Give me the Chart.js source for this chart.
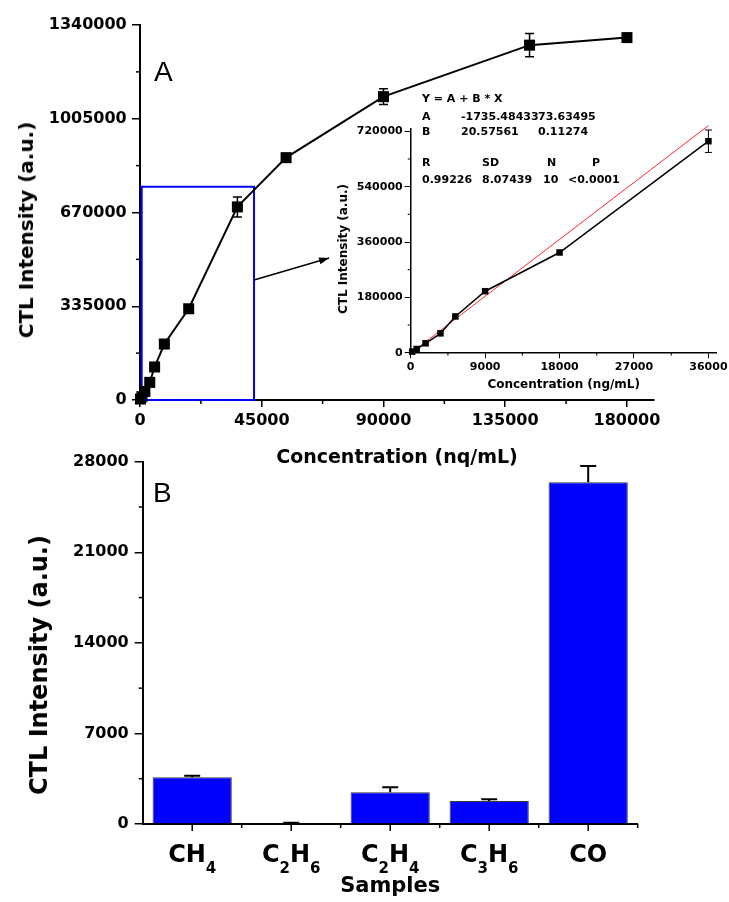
<!DOCTYPE html>
<html>
<head>
<meta charset="utf-8">
<script src="https://cdn.jsdelivr.net/npm/chart.js@4.4.1/dist/chart.umd.min.js"></script>
<style>
html,body{margin:0;padding:0;background:#fff;}
#wrap{position:relative;width:729px;height:902px;overflow:hidden;background:#fff;}
#wrap canvas{position:absolute;}
.t{position:absolute;font-family:'DejaVu Sans',sans-serif;font-weight:bold;white-space:nowrap;color:#000;font-size:11px;line-height:12px;}
.rot{position:absolute;font-family:'DejaVu Sans',sans-serif;font-weight:bold;white-space:nowrap;line-height:1;color:#000;transform:translate(-50%,-50%) rotate(-90deg);}
.pl{position:absolute;font-family:'Liberation Sans',Arial,sans-serif;font-size:28px;line-height:28px;color:#000;}
</style>
</head>
<body>
<div id="wrap">
  <canvas id="chartB" width="729" height="462" style="left:0;top:440px"></canvas>
  <canvas id="chartA" width="729" height="475" style="left:0;top:0"></canvas>
  <canvas id="chartInset" width="420" height="290" style="left:330px;top:110px"></canvas>

  <div class="pl" style="left:154px;top:58px">A</div>
  <div class="pl" style="left:153px;top:479px">B</div>

  <div class="rot" style="left:26px;top:230px;font-size:20px">CTL Intensity (a.u.)</div>
  <div class="rot" style="left:39px;top:665px;font-size:24px">CTL Intensity (a.u.)</div>
  <div class="rot" style="left:343px;top:249px;font-size:12px">CTL Intensity (a.u.)</div>

  <div class="t" style="left:422px;top:93px">Y = A + B * X</div>
  <div class="t" style="left:422px;top:111px">A</div>
  <div class="t" style="left:461px;top:111px">-1735.48433</div>
  <div class="t" style="left:538px;top:111px">73.63495</div>
  <div class="t" style="left:422px;top:126px">B</div>
  <div class="t" style="left:461px;top:126px">20.57561</div>
  <div class="t" style="left:538px;top:126px">0.11274</div>
  <div class="t" style="left:422px;top:157px">R</div>
  <div class="t" style="left:482px;top:157px">SD</div>
  <div class="t" style="left:547px;top:157px">N</div>
  <div class="t" style="left:592px;top:157px">P</div>
  <div class="t" style="left:422px;top:174px">0.99226</div>
  <div class="t" style="left:482px;top:174px">8.07439</div>
  <div class="t" style="left:543px;top:174px">10</div>
  <div class="t" style="left:568px;top:174px">&lt;0.0001</div>
</div>

<script>
// ---------- data ----------
const mainConc = [180, 720, 1800, 3600, 5400, 9000, 18000, 36000, 54000, 90000, 144000, 180000];
const mainCTL  = [3500, 12000, 30600, 63000, 118000, 200000, 326000, 690000, 866000, 1084000, 1268000, 1295000];
const mainErr  = [0, 0, 0, 0, 0, 0, 0, 35700, 0, 27900, 41700, 0];

const insetConc = [180, 720, 1800, 3600, 5400, 9000, 18000, 36000];
const insetCTL  = [3500, 12000, 30600, 63000, 118000, 200000, 326000, 688000];
const insetErr  = [0, 0, 0, 0, 0, 0, 0, 36500];

const fitConc = [0, 36000];
const fitCTL  = [-1735, 738987];

const samples    = ['CH4', 'C2H6', 'C2H4', 'C3H6', 'CO'];
const sampleCTL  = [3610, 60, 2450, 1780, 26410];
const sampleErr  = [125, 40, 390, 130, 1260];

const mainXMajors = [0, 45000, 90000, 135000, 180000];
const mainXLabels = ['0', '45000', '90000', '135000', '180000'];
const mainYMajors = [0, 335000, 670000, 1005000, 1340000];
const mainYLabels = ['0', '335000', '670000', '1005000', '1340000'];
const insetXMajors = [0, 9000, 18000, 27000, 36000];
const insetXLabels = ['0', '9000', '18000', '27000', '36000'];
const insetYMajors = [0, 180000, 360000, 540000, 720000];
const insetYLabels = ['0', '180000', '360000', '540000', '720000'];
const bYMajors = [0, 7000, 14000, 21000, 28000];
const bYLabels = ['0', '7000', '14000', '21000', '28000'];

// ---------- helpers ----------
Chart.defaults.font.family = "'DejaVu Sans'";
const isMajor = (majors, v) => majors.some(m => Math.abs(m - v) < 1e-6);
const labelFor = (majors, labels) => v => {
  const i = majors.findIndex(m => Math.abs(m - v) < 1e-6);
  return i >= 0 ? labels[i] : '';
};
const tickColorFor = majors => c => (c.tick && isMajor(majors, c.tick.value)) ? '#000' : 'rgba(0,0,0,0)';
const bold = size => ({family: "'DejaVu Sans'", weight: 'bold', size});
// majors plus the midpoints between them
const tickSetter = majors => s => {
  const vals = [];
  majors.forEach((m, i) => {
    vals.push(m);
    if (i < majors.length - 1) vals.push((m + majors[i + 1]) / 2);
  });
  s.ticks = vals.map(v => ({value: v}));
};

function minorTicks(axes) {
  return {
    id: 'minorTicks',
    afterDraw(chart) {
      const ctx = chart.ctx;
      axes.forEach(a => {
        const s = chart.scales[a.id];
        ctx.save();
        ctx.strokeStyle = '#000';
        ctx.lineWidth = a.width;
        s.ticks.forEach(t => {
          if (isMajor(a.majors, t.value)) return;
          const p = s.getPixelForValue(t.value);
          ctx.beginPath();
          if (s.isHorizontal()) { ctx.moveTo(p, s.top); ctx.lineTo(p, s.top + a.len); }
          else { ctx.moveTo(s.right, p); ctx.lineTo(s.right - a.len, p); }
          ctx.stroke();
        });
        ctx.restore();
      });
    }
  };
}

const errorBars = {
  id: 'errorBars',
  afterDatasetsDraw(chart) {
    const ctx = chart.ctx;
    chart.data.datasets.forEach((ds, di) => {
      if (!ds.errors) return;
      const meta = chart.getDatasetMeta(di);
      const ys = chart.scales[meta.yAxisID];
      ctx.save();
      ctx.strokeStyle = '#000';
      ctx.lineWidth = ds.errWidth;
      meta.data.forEach((el, i) => {
        const e = ds.errors[i];
        if (!e) return;
        const d = ds.data[i];
        const v = (typeof d === 'object') ? d.y : d;
        const x = el.x;
        const yTop = ys.getPixelForValue(v + e);
        const yBot = ds.errUpOnly ? el.y : ys.getPixelForValue(v - e);
        const cw = ds.errCap / 2;
        ctx.beginPath();
        ctx.moveTo(x, yTop); ctx.lineTo(x, yBot);
        ctx.moveTo(x - cw, yTop); ctx.lineTo(x + cw, yTop);
        if (!ds.errUpOnly) { ctx.moveTo(x - cw, yBot); ctx.lineTo(x + cw, yBot); }
        ctx.stroke();
      });
      ctx.restore();
    });
  }
};

// zoom box & arrow (in data units of the main chart)
const zoomRegion = {x0: 630, x1: 42150, y0: 0, y1: 762000};
const arrowFrom = {x: 42150, y: 428800};
const arrowTo = {x: 69900, y: 507400};
const zoomBox = {
  id: 'zoomBox',
  beforeDatasetsDraw(chart) {
    const xs = chart.scales.x, ys = chart.scales.y, ctx = chart.ctx;
    const l = xs.getPixelForValue(zoomRegion.x0), r = xs.getPixelForValue(zoomRegion.x1);
    const t = ys.getPixelForValue(zoomRegion.y1), b = ys.getPixelForValue(zoomRegion.y0);
    ctx.save();
    ctx.strokeStyle = '#0000ff';
    ctx.lineWidth = 2;
    ctx.strokeRect(l, t, r - l, b - t);
    const ax = xs.getPixelForValue(arrowFrom.x), ay = ys.getPixelForValue(arrowFrom.y);
    const bx = xs.getPixelForValue(arrowTo.x), by = ys.getPixelForValue(arrowTo.y);
    ctx.strokeStyle = '#000';
    ctx.lineWidth = 1.5;
    ctx.beginPath(); ctx.moveTo(ax, ay); ctx.lineTo(bx, by); ctx.stroke();
    const ang = Math.atan2(by - ay, bx - ax);
    ctx.fillStyle = '#000';
    ctx.beginPath();
    ctx.moveTo(bx, by);
    ctx.lineTo(bx - 10 * Math.cos(ang) + 3.5 * Math.sin(ang), by - 10 * Math.sin(ang) - 3.5 * Math.cos(ang));
    ctx.lineTo(bx - 10 * Math.cos(ang) - 3.5 * Math.sin(ang), by - 10 * Math.sin(ang) + 3.5 * Math.cos(ang));
    ctx.closePath(); ctx.fill();
    ctx.restore();
  }
};

// category ticks + subscript labels for chart B
const catTicks = {
  id: 'catTicks',
  afterDraw(chart) {
    const xs = chart.scales.x, ctx = chart.ctx;
    const n = chart.data.labels.length;
    const step = xs.getPixelForValue(1) - xs.getPixelForValue(0);
    ctx.save();
    ctx.strokeStyle = '#000';
    ctx.lineWidth = 1.5;
    for (let i = 0; i < n; i++) {
      const c = xs.getPixelForValue(i);
      ctx.beginPath(); ctx.moveTo(c, xs.top); ctx.lineTo(c, xs.top + 7); ctx.stroke();
      const e = c + step / 2;
      ctx.beginPath(); ctx.moveTo(e, xs.top); ctx.lineTo(e, xs.top + 4); ctx.stroke();
    }
    const base = xs.top + 37.7;
    const big = "bold 24px 'DejaVu Sans'", small = "bold 15px 'DejaVu Sans'";
    ctx.fillStyle = '#000';
    ctx.textAlign = 'left';
    ctx.textBaseline = 'alphabetic';
    chart.data.labels.forEach((lab, i) => {
      const parts = lab.match(/[A-Za-z]+|[0-9]+/g);
      const ws = parts.map(p => { ctx.font = /\d/.test(p) ? small : big; return ctx.measureText(p).width; });
      let x = xs.getPixelForValue(i) - ws.reduce((a, b) => a + b, 0) / 2;
      parts.forEach((p, k) => {
        const sub = /\d/.test(p);
        ctx.font = sub ? small : big;
        ctx.fillText(p, x, sub ? base + 11 : base);
        x += ws[k];
      });
    });
    ctx.restore();
  }
};

const common = {responsive: false, animation: false, devicePixelRatio: 1,
  plugins: {legend: {display: false}, tooltip: {enabled: false}}};

// ---------- chart A (main) ----------
new Chart(document.getElementById('chartA'), {
  type: 'line',
  data: {
    datasets: [{
      data: mainConc.map((x, i) => ({x, y: mainCTL[i]})),
      errors: mainErr, errWidth: 1.5, errCap: 9,
      borderColor: '#000', borderWidth: 2, tension: 0,
      pointStyle: 'rect', pointRadius: 7.8, pointBorderWidth: 0,
      pointBackgroundColor: '#000', clip: false
    }]
  },
  options: {
    ...common,
    layout: {padding: {left: 0, top: 25, right: 75, bottom: 0}},
    scales: {
      x: {
        type: 'linear', min: 0, max: 190000,
        afterBuildTicks: tickSetter(mainXMajors),
        ticks: {autoSkip: false, maxRotation: 0,
          padding: 4.4, color: '#000', font: bold(16), callback: labelFor(mainXMajors, mainXLabels)},
        grid: {drawOnChartArea: false, tickLength: 7, lineWidth: 1.5, tickColor: tickColorFor(mainXMajors)},
        border: {display: true, color: '#000', width: 2},
        title: {display: true, text: 'Concentration (nq/mL)', color: '#000', font: bold(19), padding: {top: 0, bottom: 5.6}},
        afterFit(s) { s.height = 75; }
      },
      y: {
        min: 0, max: 1340000,
        afterBuildTicks: tickSetter(mainYMajors),
        ticks: {autoSkip: false,
          padding: 5.3, color: '#000', font: bold(16), callback: labelFor(mainYMajors, mainYLabels)},
        grid: {drawOnChartArea: false, tickLength: 8, lineWidth: 1.5, tickColor: tickColorFor(mainYMajors)},
        border: {display: true, color: '#000', width: 2},
        afterFit(s) { s.width = 140; }
      }
    }
  },
  plugins: [zoomBox, errorBars, minorTicks([
    {id: 'x', majors: mainXMajors, len: 4, width: 1.5},
    {id: 'y', majors: mainYMajors, len: 4, width: 1.5}
  ])]
});

// ---------- inset ----------
new Chart(document.getElementById('chartInset'), {
  type: 'line',
  data: {
    datasets: [{
      data: insetConc.map((x, i) => ({x, y: insetCTL[i]})),
      errors: insetErr, errWidth: 1, errCap: 7,
      borderColor: '#000', borderWidth: 1.5, tension: 0,
      pointStyle: 'rect', pointRadius: 4.6, pointBorderWidth: 0,
      pointBackgroundColor: '#000', clip: false
    }, {
      data: fitConc.map((x, i) => ({x, y: fitCTL[i]})),
      borderColor: 'rgba(255,0,0,0.85)', borderWidth: 1, pointRadius: 0, tension: 0, clip: false
    }]
  },
  options: {
    ...common,
    layout: {padding: {left: 0, top: 18.3, right: 33.3, bottom: 0}},
    scales: {
      x: {
        type: 'linear', min: 0, max: 37000,
        afterBuildTicks: tickSetter(insetXMajors),
        ticks: {autoSkip: false, maxRotation: 0,
          padding: 2.4, color: '#000', font: bold(11), callback: labelFor(insetXMajors, insetXLabels)},
        grid: {drawOnChartArea: false, tickLength: 5.6, lineWidth: 1, tickColor: tickColorFor(insetXMajors)},
        border: {display: true, color: '#000', width: 1.5},
        title: {display: true, text: 'Concentration (ng/mL)', color: '#000', font: bold(12), padding: {top: 0, bottom: 7.8}},
        afterFit(s) { s.height = 47.3; }
      },
      y: {
        min: 0, max: 730000,
        afterBuildTicks: tickSetter(insetYMajors),
        ticks: {autoSkip: false,
          padding: 2, color: '#000', font: bold(11), callback: labelFor(insetYMajors, insetYLabels)},
        grid: {drawOnChartArea: false, tickLength: 6, lineWidth: 1, tickColor: tickColorFor(insetYMajors)},
        border: {display: true, color: '#000', width: 1.5},
        afterFit(s) { s.width = 80.7; }
      }
    }
  },
  plugins: [errorBars, minorTicks([
    {id: 'x', majors: insetXMajors, len: 3, width: 1},
    {id: 'y', majors: insetYMajors, len: 3, width: 1}
  ])]
});

// ---------- chart B ----------
new Chart(document.getElementById('chartB'), {
  type: 'bar',
  data: {
    labels: samples,
    datasets: [{
      data: sampleCTL,
      errors: sampleErr, errWidth: 2, errCap: 16, errUpOnly: true,
      backgroundColor: '#0000ff', borderColor: '#3a3a3a', borderWidth: 1,
      barPercentage: 0.8, categoryPercentage: 1.0
    }]
  },
  options: {
    ...common,
    layout: {padding: {left: 0, top: 21.7, right: 91.3, bottom: 0}},
    scales: {
      x: {
        ticks: {display: false},
        grid: {drawOnChartArea: false, drawTicks: false},
        border: {display: true, color: '#000', width: 2},
        title: {display: true, text: 'Samples', color: '#000', font: bold(21), padding: {top: 0, bottom: 2.4}},
        afterFit(s) { s.height = 78; }
      },
      y: {
        min: 0, max: 28000,
        afterBuildTicks: tickSetter(bYMajors),
        ticks: {autoSkip: false,
          padding: 6, color: '#000', font: bold(16), callback: labelFor(bYMajors, bYLabels)},
        grid: {drawOnChartArea: false, tickLength: 8, lineWidth: 1.5, tickColor: tickColorFor(bYMajors)},
        border: {display: true, color: '#000', width: 2},
        afterFit(s) { s.width = 142.7; }
      }
    }
  },
  plugins: [errorBars, catTicks, minorTicks([
    {id: 'y', majors: bYMajors, len: 4, width: 1.5}
  ])]
});
</script>
</body>
</html>
